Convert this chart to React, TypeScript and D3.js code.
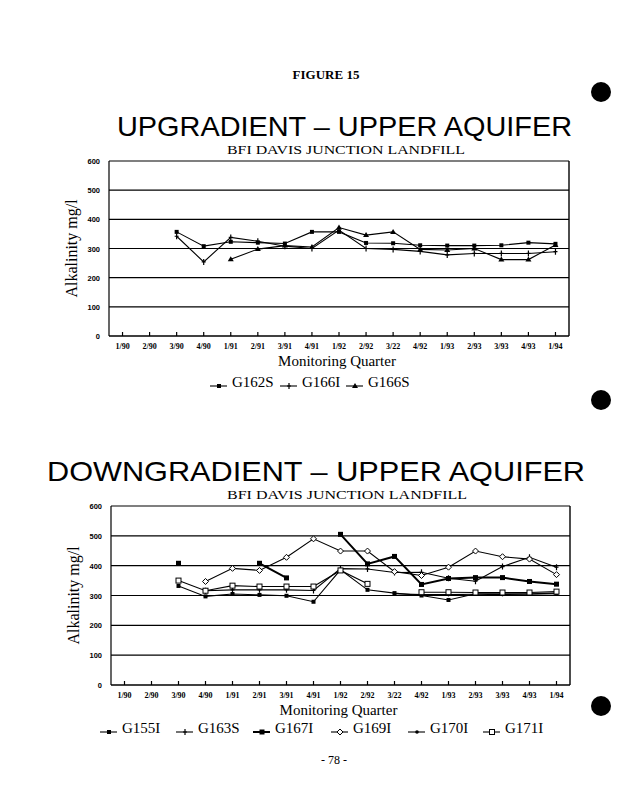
import { useEffect, useRef } from "react";
import * as d3 from "d3";

const quarters = [
  "1/90", "2/90", "3/90", "4/90", "1/91", "2/91", "3/91", "4/91", "1/92",
  "2/92", "3/22", "4/92", "1/93", "2/93", "3/93", "4/93", "1/94",
];
const yTicks = [0, 100, 200, 300, 400, 500, 600];

// upgradient wells (alkalinity mg/l)
const g162s = [null, null, 357, 308, 323, 320, 317, 357, 357, 319, 318, 311, 310, 310, 311, 320, 316];
const g166i = [null, null, 342, 254, 338, 325, 308, 300, 363, 300, 297, 290, 278, 283, 283, 283, 289];
const g166s = [null, null, null, null, 263, 298, 310, 305, 372, 346, 357, 297, 295, 300, 262, 262, 312];

// downgradient wells
const g155i = [null, null, 332, 297, 305, 302, 299, 279, 386, 319, 308, 300, 285, 306, 306, 306, 308];
const g163s = [null, null, null, 316, 319, 319, 319, 317, 390, 389, 377, 378, 358, 348, 397, 428, 395];
const g167i = [null, null, 408, null, null, 408, 359, null, 505, 406, 431, 337, 357, 360, 360, 347, 338];
const g169i = [null, null, null, 347, 391, 384, 428, 490, 449, 449, 380, 367, 395, 449, 430, 422, 370];
const g170i = [null, null, null, null, null, null, null, null, null, null, 306, 303, 303, 304, 303, 304, 306];
const g171i = [null, null, 350, 316, 333, 330, 330, 330, 384, 339, null, 311, 311, 310, 310, 310, 313];

type Series = { name: string; values: (number | null)[]; marker: string; width?: number };

const upSeries: Series[] = [
  { name: "G162S", values: g162s, marker: "square" },
  { name: "G166I", values: g166i, marker: "plus" },
  { name: "G166S", values: g166s, marker: "triangle" },
];
const downSeries: Series[] = [
  { name: "G155I", values: g155i, marker: "square" },
  { name: "G163S", values: g163s, marker: "plus" },
  { name: "G167I", values: g167i, marker: "bigsquare", width: 2 },
  { name: "G169I", values: g169i, marker: "diamond" },
  { name: "G170I", values: g170i, marker: "dot" },
  { name: "G171I", values: g171i, marker: "osquare" },
];

const serif = "'Liberation Serif', 'Times New Roman', serif";
const sans = "'Liberation Sans', Arial, sans-serif";

const drawMarker = (g: any, kind: string, x: number, y: number) => {
  if (kind === "square") {
    g.append("rect").attr("x", x - 2).attr("y", y - 2).attr("width", 4).attr("height", 4).attr("fill", "#000");
  } else if (kind === "bigsquare") {
    g.append("rect").attr("x", x - 2.5).attr("y", y - 2.5).attr("width", 5).attr("height", 5).attr("fill", "#000");
  } else if (kind === "triangle") {
    g.append("path").attr("d", `M${x},${y - 3}L${x + 3},${y + 2}L${x - 3},${y + 2}Z`).attr("fill", "#000");
  } else if (kind === "plus") {
    g.append("path").attr("d", `M${x},${y - 3}V${y + 3}M${x - 2},${y}H${x + 2}`).attr("stroke", "#000").attr("stroke-width", 1.2);
  } else if (kind === "diamond") {
    g.append("path").attr("d", `M${x},${y - 3}L${x + 3},${y}L${x},${y + 3}L${x - 3},${y}Z`)
      .attr("fill", "#fff").attr("stroke", "#000").attr("stroke-width", 1);
  } else if (kind === "osquare") {
    g.append("rect").attr("x", x - 2.5).attr("y", y - 2.5).attr("width", 5).attr("height", 5)
      .attr("fill", "#fff").attr("stroke", "#000").attr("stroke-width", 1);
  } else {
    g.append("circle").attr("cx", x).attr("cy", y).attr("r", 1.8).attr("fill", "#000");
  }
};

type PanelProps = {
  left: number;
  right: number;
  top: number;
  bottom: number;
  series: Series[];
  labelY: number;
  legendY: number;
  legendX: number[];
};

const Panel = ({ left, right, top, bottom, series, labelY, legendY, legendX }: PanelProps) => {
  const ref = useRef<SVGGElement>(null);
  useEffect(() => {
    const g = d3.select(ref.current);
    g.selectAll("*").remove();
    const x = d3.scalePoint<string>().domain(quarters).range([left, right]).padding(0.5);
    const y = d3.scaleLinear().domain([0, 600]).range([bottom, top]);

    // gridlines and frame
    g.selectAll(".grid")
      .data(yTicks)
      .join("line")
      .attr("x1", left)
      .attr("x2", right)
      .attr("y1", (d) => y(d))
      .attr("y2", (d) => y(d))
      .attr("stroke", "#000")
      .attr("stroke-width", (d) => (d === 0 ? 1.6 : 1.1));
    g.append("line").attr("x1", left).attr("x2", left).attr("y1", top).attr("y2", bottom)
      .attr("stroke", "#000").attr("stroke-width", 1.2);
    g.append("line").attr("x1", right).attr("x2", right).attr("y1", top).attr("y2", bottom)
      .attr("stroke", "#000").attr("stroke-width", 1.4);

    // y tick labels
    g.selectAll(".yl")
      .data(yTicks)
      .join("text")
      .attr("x", left - 9)
      .attr("y", (d) => y(d) + 3)
      .attr("text-anchor", "end")
      .attr("font-family", sans)
      .attr("font-weight", "bold")
      .attr("font-size", 7.5)
      .text((d) => d);

    // x ticks and labels
    g.selectAll(".xt")
      .data(quarters)
      .join("line")
      .attr("x1", (d) => x(d)!)
      .attr("x2", (d) => x(d)!)
      .attr("y1", bottom)
      .attr("y2", bottom - 4)
      .attr("stroke", "#000")
      .attr("stroke-width", 1.2);
    g.selectAll(".xl")
      .data(quarters)
      .join("text")
      .attr("x", (d) => x(d)!)
      .attr("y", bottom + 13)
      .attr("text-anchor", "middle")
      .attr("font-family", serif)
      .attr("font-weight", "bold")
      .attr("font-size", 8)
      .text((d) => d);

    // series
    series.forEach((s) => {
      const pts = s.values.map((v, i) => ({ q: quarters[i], v }));
      const line = d3
        .line<{ q: string; v: number | null }>()
        .defined((d) => d.v !== null)
        .x((d) => x(d.q)!)
        .y((d) => y(d.v as number));
      g.append("path")
        .datum(pts)
        .attr("fill", "none")
        .attr("stroke", "#000")
        .attr("stroke-width", s.width ?? 1.1)
        .attr("d", line);
      const mg = g.append("g");
      pts.forEach((p) => {
        if (p.v !== null) drawMarker(mg, s.marker, x(p.q)!, y(p.v));
      });
    });

    // legend
    series.forEach((s, i) => {
      const lx = legendX[i];
      const lg = g.append("g");
      lg.append("line").attr("x1", lx).attr("x2", lx + 17).attr("y1", legendY - 1).attr("y2", legendY - 1)
        .attr("stroke", "#000").attr("stroke-width", s.width ?? 1.1);
      drawMarker(lg, s.marker, lx + 9, legendY - 1);
      lg.append("text")
        .attr("x", lx + 22)
        .attr("y", legendY)
        .attr("font-family", serif)
        .attr("font-size", 15)
        .text(s.name);
    });

    // axis titles
    g.append("text")
      .attr("transform", `translate(${left - 32},${(top + bottom) / 2}) rotate(-90)`)
      .attr("text-anchor", "middle")
      .attr("font-family", serif)
      .attr("font-size", 16)
      .text("Alkalinity  mg/l");
    g.append("text")
      .attr("x", (left + right) / 2 - 2)
      .attr("y", labelY)
      .attr("text-anchor", "middle")
      .attr("font-family", serif)
      .attr("font-size", 15)
      .text("Monitoring Quarter");
  }, []);
  return <g ref={ref} />;
};

export default function App() {
  return (
    <svg width={618} height={800} style={{ position: "absolute", left: 0, top: 0, background: "#fff" }}>
      <rect width={618} height={800} fill="#fff" />
      <text x={326} y={79} textAnchor="middle" fontFamily={serif} fontWeight="bold" fontSize={13}>
        FIGURE  15
      </text>
      <text x={117} y={136} textLength={455} lengthAdjust="spacingAndGlyphs" fontFamily={sans} fontSize={28}>
        UPGRADIENT – UPPER AQUIFER
      </text>
      <text x={227} y={154} textLength={238} lengthAdjust="spacingAndGlyphs" fontFamily={serif} fontSize={13}>
        BFI DAVIS JUNCTION LANDFILL
      </text>
      <Panel
        left={109}
        right={569}
        top={161}
        bottom={336}
        series={upSeries}
        labelY={366}
        legendY={387}
        legendX={[210, 280, 346]}
      />
      <text x={47} y={481} textLength={538} lengthAdjust="spacingAndGlyphs" fontFamily={sans} fontSize={28}>
        DOWNGRADIENT – UPPER AQUIFER
      </text>
      <text x={227} y={499} textLength={240} lengthAdjust="spacingAndGlyphs" fontFamily={serif} fontSize={13}>
        BFI DAVIS JUNCTION LANDFILL
      </text>
      <Panel
        left={111}
        right={570}
        top={506}
        bottom={685}
        series={downSeries}
        labelY={715}
        legendY={733}
        legendX={[100, 176, 253, 331, 408, 483]}
      />
      <text x={334} y={764} textAnchor="middle" fontFamily={serif} fontSize={12}>
        -  78  -
      </text>
      <circle cx={601} cy={92} r={10} fill="#000" />
      <circle cx={601} cy={400} r={10} fill="#000" />
      <circle cx={601} cy={706} r={10} fill="#000" />
    </svg>
  );
}
